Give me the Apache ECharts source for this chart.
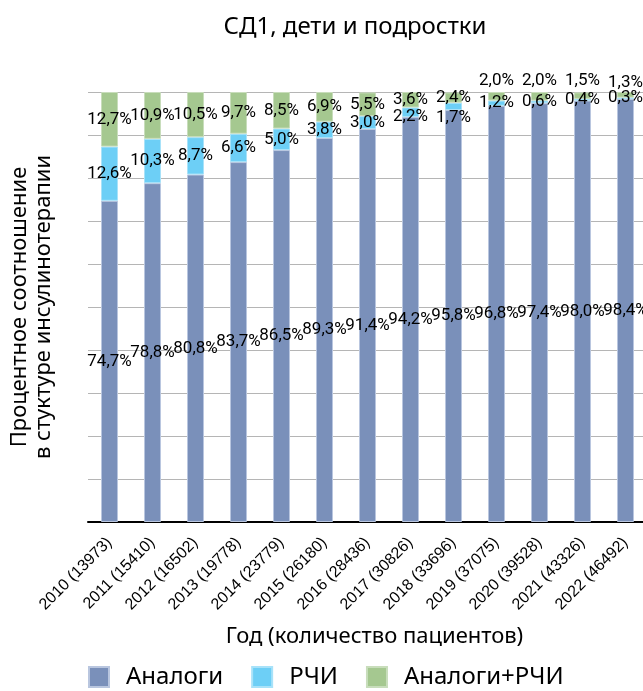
<!DOCTYPE html>
<html>
<head>
<meta charset="utf-8">
<script src="https://cdn.jsdelivr.net/npm/echarts@6/dist/echarts.min.js"></script>
<style>
  html, body { margin: 0; padding: 0; background: #fff; }
  #chart { width: 643px; height: 691px; }
</style>
</head>
<body>
<div id="chart"></div>
<script>
// годы (количество пациентов)
var years = ['2010 (13973)', '2011 (15410)', '2012 (16502)', '2013 (19778)', '2014 (23779)',
  '2015 (26180)', '2016 (28436)', '2017 (30826)', '2018 (33696)', '2019 (37075)',
  '2020 (39528)', '2021 (43326)', '2022 (46492)'];
var analogi = [74.7, 78.8, 80.8, 83.7, 86.5, 89.3, 91.4, 94.2, 95.8, 96.8, 97.4, 98.0, 98.4];
var rchi = [12.6, 10.3, 8.7, 6.6, 5.0, 3.8, 3.0, 2.2, 1.7, 1.2, 0.6, 0.4, 0.3];
var analogiRchi = [12.7, 10.9, 10.5, 9.7, 8.5, 6.9, 5.5, 3.6, 2.4, 2.0, 2.0, 1.5, 1.3];
var yTicks = [0, 10, 20, 30, 40, 50, 60, 70, 80, 90, 100];

var labelFont = 'Roboto, sans-serif';

function fmt(p) {
  return p.value.toFixed(1).replace('.', ',') + '%';
}

// small segments: labels were moved by hand in the original
function items(arr, name) {
  var greenOff = { 9: [0, -16], 10: [0, -16], 11: [0, -15], 12: [0, -12] };
  return arr.map(function (v, i) {
    var it = { value: v };
    if (name == 'green' && greenOff[i]) it.label = { offset: greenOff[i] };
    if (name == 'rchi' && i == 8) it.label = { offset: [0, 11] };
    if (name == 'rchi' && i == 7) it.label = { offset: [0, 5] };
    return it;
  });
}

var barLabel = {
  show: true,
  position: 'inside',
  color: '#000',
  fontFamily: labelFont,
  fontSize: 17,
  formatter: fmt
};

var option = {
  animation: false,
  backgroundColor: '#fff',
  title: {
    text: 'СД1, дети и подростки',
    left: 350,
    textAlign: 'center',
    top: 10,
    textStyle: { fontFamily: '"Noto Sans", sans-serif', fontSize: 24, fontWeight: 'normal', color: '#000' }
  },
  legend: {
    left: 88,
    top: 665,
    padding: 0,
    itemWidth: 20,
    itemHeight: 20,
    itemGap: 28,
    icon: 'rect',
    textStyle: { fontFamily: '"Noto Sans", sans-serif', fontSize: 24, color: '#000', padding: [0, 0, 0, 12] },
    data: ['Аналоги', 'РЧИ', 'Аналоги+РЧИ']
  },
  grid: { left: 88, top: 92, right: -4, bottom: 169, outerBoundsMode: 'none' },
  xAxis: {
    type: 'category',
    data: years,
    name: 'Год (количество пациентов)',
    nameLocation: 'middle',
    nameGap: 104,
    nameTextStyle: { fontFamily: '"Noto Sans", sans-serif', fontSize: 22, color: '#000', padding: [0, 0, 0, 14] },
    axisLine: { lineStyle: { color: '#000', width: 2 } },
    axisTick: { show: false },
    axisLabel: {
      rotate: 45,
      interval: 0,
      margin: 18,
      color: '#000',
      fontFamily: '"Liberation Sans", sans-serif',
      fontSize: 16
    }
  },
  yAxis: {
    type: 'value',
    min: yTicks[0],
    max: yTicks[yTicks.length - 1],
    interval: 10,
    name: 'Процентное соотношение\nв стуктуре инсулинотерапии',
    nameLocation: 'middle',
    nameGap: 32,
    nameTextStyle: { fontFamily: '"Noto Sans", sans-serif', fontSize: 22, color: '#000', lineHeight: 24 },
    axisLine: { show: false },
    axisTick: { show: false },
    axisLabel: { show: false },
    splitLine: { lineStyle: { color: '#b5b5b5', width: 1 } }
  },
  series: [
    {
      name: 'Аналоги', type: 'bar', stack: 'all', barWidth: 17,
      itemStyle: { color: '#7a90ba', borderColor: '#b9c6df', borderWidth: 1 },
      label: barLabel,
      data: items(analogi, 'analog')
    },
    {
      name: 'РЧИ', type: 'bar', stack: 'all', barWidth: 17,
      itemStyle: { color: '#6dcff6', borderColor: '#a8e2f9', borderWidth: 1 },
      label: barLabel,
      data: items(rchi, 'rchi')
    },
    {
      name: 'Аналоги+РЧИ', type: 'bar', stack: 'all', barWidth: 17,
      itemStyle: { color: '#a5c890', borderColor: '#c8ddbb', borderWidth: 1 },
      label: barLabel,
      data: items(analogiRchi, 'green')
    }
  ]
};

var chart = echarts.init(document.getElementById('chart'));
chart.setOption(option);
</script>
</body>
</html>
